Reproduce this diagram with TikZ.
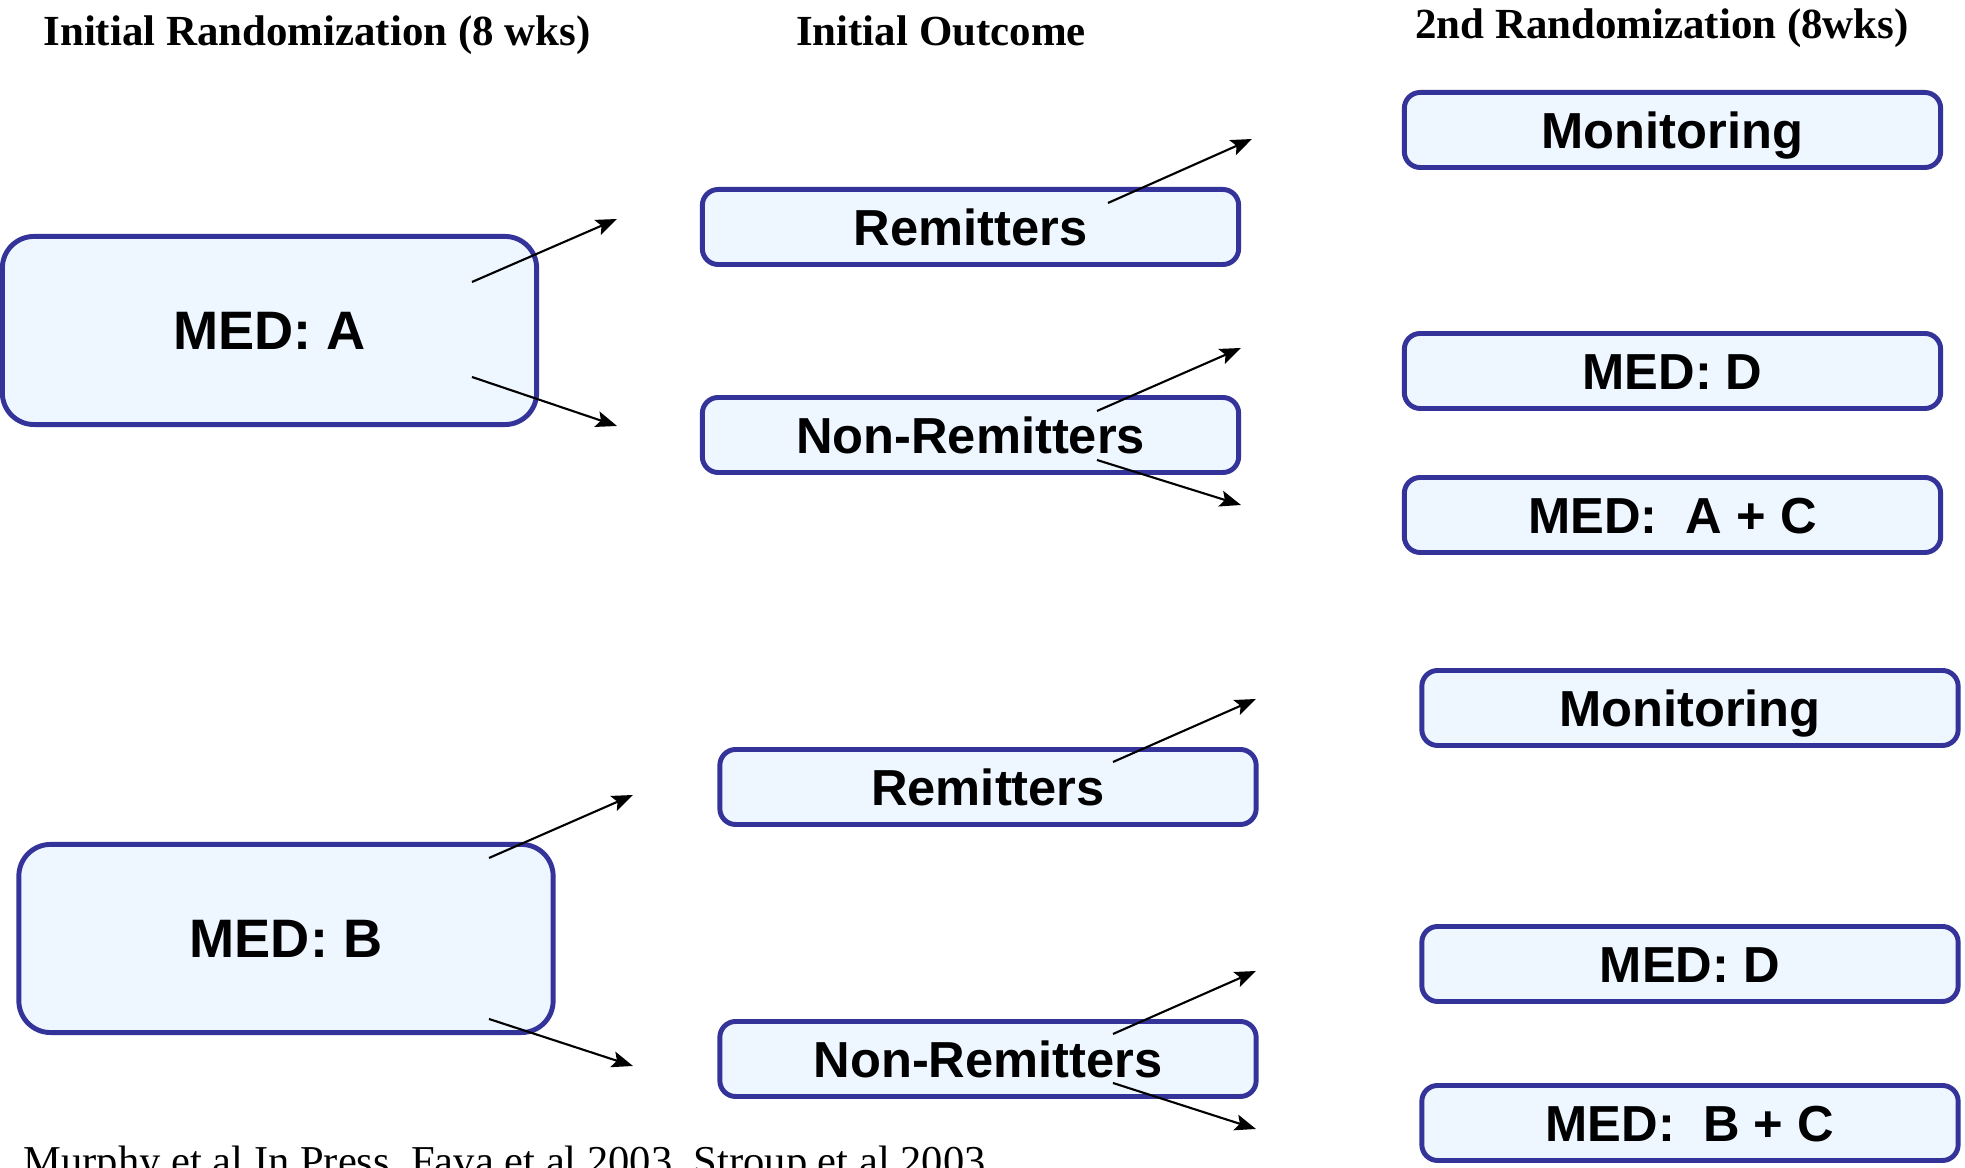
\documentclass[tikz,border=0pt]{standalone}
\usepackage{fontspec}
\setmainfont{Liberation Serif}
\setsansfont{Liberation Sans}
\usepackage{tikz}
\usetikzlibrary{arrows.meta, positioning, calc}
\definecolor{azulcaja}{RGB}{51,51,153}
\definecolor{fondocaja}{RGB}{238,246,255}
\tikzstyle{caja} = [draw=azulcaja, fill=fondocaja, line width=1.4pt, rectangle, rounded corners=4.5pt, inner sep=0pt, minimum width=5.36cm, minimum height=0.75cm, text height=10.3pt, text depth=0pt, font=\sffamily\bfseries\fontsize{14.4}{17}\selectfont]
\tikzstyle{grande} = [caja, rounded corners=9pt, minimum width=5.34cm, minimum height=1.88cm, text height=11pt, font=\sffamily\bfseries\fontsize{15.4}{18}\selectfont]
\tikzstyle{titulo} = [inner sep=0pt, anchor=base, font=\bfseries\fontsize{12.2}{14}\selectfont]
\tikzstyle{cita} = [inner sep=0pt, anchor=base west, font=\fontsize{12.1}{14}\selectfont]
\tikzstyle{flecha} = [-{Stealth[length=6pt, width=4.6pt, inset=1.2pt]}, line width=0.6pt, black]

\begin{document}
\begin{tikzpicture}[x=0.01cm, y=-0.01cm]
	\useasboundingbox (0,0) rectangle (1965,1168);
	\clip (0,0) rectangle (1965,1168);
	\node [titulo] (tit1) at (317,46) {Initial Randomization (8 wks)};
	\node [titulo] (tit2) at (941,46) {Initial Outcome};
	\node [titulo] (tit3) at (1662,39) {2nd Randomization (8wks)};
	\node [grande] (medA) at (269.5,330.5) {MED: A};
	\node [caja] (remA) at (970.5,227) {Remitters};
	\node [caja] (nonA) at (970.5,435) {Non-Remitters};
	\node [caja] (monA) at (1672.5,130) {Monitoring};
	\node [caja] (medDA) at (1672.5,371) {MED: D};
	\node [caja] (medAC) at (1672.5,515) {MED:\ \ A + C};
	\node [grande] (medB) at (286,938.5) {MED: B};
	\node [caja] (remB) at (988,787) {Remitters};
	\node [caja] (nonB) at (988,1059) {Non-Remitters};
	\node [caja] (monB) at (1690,708) {Monitoring};
	\node [caja] (medDB) at (1690,964) {MED: D};
	\node [caja] (medBC) at (1690,1123) {MED:\ \ B + C};
	\node [cita] (ref) at (23,1176) {Murphy et al In Press, Fava et al 2003, Stroup et al 2003};
	\coordinate (medA-sube) at (617,219);
	\coordinate (medA-baja) at (617,426);
	\coordinate (remA-sube) at (1252,139);
	\coordinate (nonA-sube) at (1241,348);
	\coordinate (nonA-baja) at (1241,505);
	\coordinate (medB-sube) at (633,795);
	\coordinate (medB-baja) at (633,1066);
	\coordinate (remB-sube) at (1256,699);
	\coordinate (nonB-sube) at (1256,971);
	\coordinate (nonB-baja) at (1256,1129);
	\draw [flecha] ($(medA)+(202.5,-48.5)$) -- (medA-sube);
	\draw [flecha] ($(medA)+(202.5,46.5)$) -- (medA-baja);
	\draw [flecha] ($(remA)+(137.5,-24)$) -- (remA-sube);
	\draw [flecha] ($(nonA)+(126.5,-24)$) -- (nonA-sube);
	\draw [flecha] ($(nonA)+(126.5,25)$) -- (nonA-baja);
	\draw [flecha] ($(medB)+(203,-80.5)$) -- (medB-sube);
	\draw [flecha] ($(medB)+(203,80.5)$) -- (medB-baja);
	\draw [flecha] ($(remB)+(125,-25)$) -- (remB-sube);
	\draw [flecha] ($(nonB)+(125,-25)$) -- (nonB-sube);
	\draw [flecha] ($(nonB)+(125,24)$) -- (nonB-baja);
\end{tikzpicture}
\end{document}
